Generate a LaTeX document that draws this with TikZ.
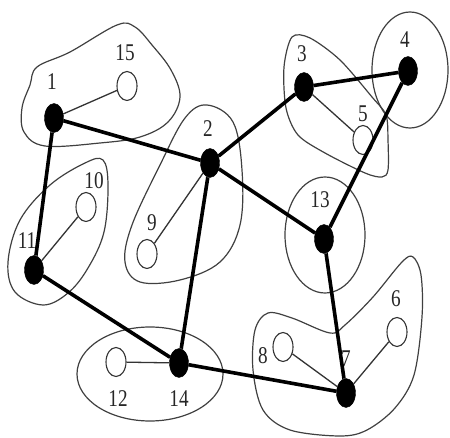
\documentclass[tikz,border=0pt]{standalone}
\usepackage{fontspec}
\newfontfamily\labfont[FakeStretch=0.8]{Liberation Serif}
\usetikzlibrary{shapes.geometric}
\tikzset{
  bnode/.style={ellipse, fill=black, draw=black, inner sep=0pt, minimum width=19pt, minimum height=29pt},
  wnode/.style={ellipse, fill=white, draw=black!80, line width=1.1pt, inner sep=0pt, minimum width=20pt, minimum height=29pt},
  lab/.style={inner sep=0pt, font=\labfont\fontsize{24}{24}\selectfont, text=black!85},
  thick edge/.style={line width=3.6pt, black},
  thin edge/.style={line width=1.3pt, black!80},
  outline/.style={line width=1.2pt, black!75}
}
\begin{document}
\begin{tikzpicture}[x=1pt, y=-1pt]
\useasboundingbox (0,0) rectangle (450,438);
% cluster outlines
\draw[outline] plot[smooth cycle, tension=0.6] coordinates {(37,67) (70,52) (117,25) (135,27) (152,45) (171,70) (180,97) (168,122) (140,137) (100,143) (45,146) (24,132) (22,108) (30,85)};
\draw[outline] plot[smooth cycle, tension=0.6] coordinates {(103,160) (108,185) (104,232) (88,268) (68,293) (43,305) (15,292) (8,262) (20,220) (50,185) (85,163)};
\draw[outline] plot[smooth cycle, tension=0.6] coordinates {(207,105) (233,122) (242,170) (240,225) (220,262) (180,280) (140,282) (125,262) (132,225) (160,165) (185,118)};
\draw[outline] plot[smooth cycle, tension=0.5] coordinates {(292,37) (310,38) (340,60) (372,97) (386,115) (388,140) (388,170) (382,177) (365,173) (325,153) (298,135) (286,108) (284,67)};
\draw[outline] plot[smooth cycle, tension=0.55] coordinates {(413,257) (421,275) (422,317) (414,375) (395,408) (367,430) (340,436) (290,430) (263,410) (253,370) (255,330) (268,313) (292,318) (330,333) (345,325) (373,297) (402,262)};
\draw[outline] (410,70) ellipse [x radius=38pt, y radius=58pt];
\draw[outline] (325,235) ellipse [x radius=40pt, y radius=58pt];
\draw[outline] (150,374) ellipse [x radius=73pt, y radius=47pt];
% nodes
\node[bnode] (n1) at (54,118) {};
\node[bnode] (n2) at (210,163) {};
\node[bnode] (n3) at (304,87) {};
\node[bnode] (n4) at (408,71) {};
\node[bnode] (n13) at (324,239) {};
\node[bnode] (n7) at (346,393) {};
\node[bnode] (n11) at (34,270) {};
\node[bnode] (n14) at (179,363) {};
\node[wnode] (n15) at (127,86) {};
\node[wnode] (n10) at (86,207) {};
\node[wnode] (n9) at (147,254) {};
\node[wnode] (n5) at (363,140) {};
\node[wnode] (n12) at (116,362) {};
\node[wnode] (n8) at (283,347) {};
\node[wnode] (n6) at (397,332) {};
% labels
\node[lab] (l1) at (52,82) {1};
\node[lab] (l15) at (125,53) {15};
\node[lab] (l2) at (208,129) {2};
\node[lab] (l10) at (94,181) {10};
\node[lab] (l3) at (302,54) {3};
\node[lab] (l4) at (405,40) {4};
\node[lab] (l5) at (363,114) {5};
\node[lab] (l13) at (320,200) {13};
\node[lab] (l11) at (27,241) {11};
\node[lab] (l9) at (152,223) {9};
\node[lab] (l12) at (118,399) {12};
\node[lab] (l14) at (179,399) {14};
\node[lab] (l6) at (396,299) {6};
\node[lab] (l8) at (263,356) {8};
\node[lab] (l7) at (346,359) {7};
% thin edges
\draw[thin edge] (n1) -- (n15);
\draw[thin edge] (n3) -- (n5);
\draw[thin edge] (n11) -- (n10);
\draw[thin edge] (n2) -- (n9);
\draw[thin edge] (n14) -- (n12);
\draw[thin edge] (n7) -- (n8);
\draw[thin edge] (n7) -- (n6);
% thick edges
\draw[thick edge] (n1) -- (n2);
\draw[thick edge] (n1) -- (n11);
\draw[thick edge] (n2) -- (n3);
\draw[thick edge] (n3) -- (n4);
\draw[thick edge] (n2) -- (n13);
\draw[thick edge] (n4) -- (n13);
\draw[thick edge] (n13) -- (n7);
\draw[thick edge] (n2) -- (n14);
\draw[thick edge] (n11) -- (n14);
\draw[thick edge] (n14) -- (n7);
\end{tikzpicture}
\end{document}
